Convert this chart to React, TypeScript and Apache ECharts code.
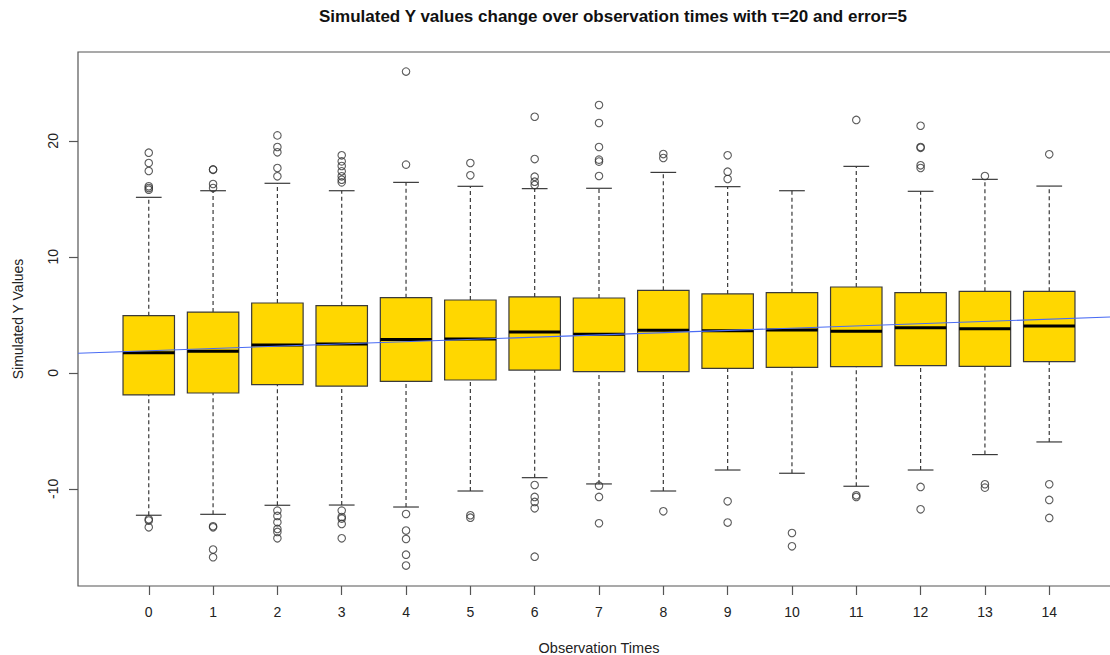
import React, { useEffect, useRef } from "react";
import * as echarts from "echarts";

const categories = [0, 1, 2, 3, 4, 5, 6, 7, 8, 9, 10, 11, 12, 13, 14];
const whiskerLow = [-12.28, -12.2, -11.42, -11.4, -11.57, -10.19, -9.04, -9.58, -10.19, -8.38, -8.66, -9.78, -8.38, -7.05, -5.96];
const q1 = [-1.91, -1.74, -1.02, -1.14, -0.73, -0.62, 0.24, 0.1, 0.1, 0.39, 0.47, 0.53, 0.62, 0.56, 0.96];
const median = [1.74, 1.85, 2.4, 2.48, 2.87, 2.92, 3.52, 3.32, 3.68, 3.62, 3.7, 3.59, 3.88, 3.8, 4.03];
const q3 = [4.93, 5.24, 6.02, 5.79, 6.48, 6.28, 6.54, 6.45, 7.11, 6.8, 6.91, 7.4, 6.91, 7.03, 7.03];
const whiskerHigh = [15.13, 15.7, 16.34, 15.7, 16.42, 16.08, 15.88, 15.91, 17.28, 16.05, 15.7, 17.8, 15.65, 16.68, 16.1];
const outliers: number[][] = [
  [18.98, 18.09, 17.4, 16.08, 15.93, 15.79, -12.63, -12.74, -13.32],
  [17.54, 17.5, 16.28, 15.93, -13.23, -13.32, -15.24, -15.9],
  [20.47, 19.47, 19.01, 17.66, 16.94, -11.88, -12.34, -12.89, -13.46, -13.72, -14.27],
  [18.75, 18.23, 17.83, 17.37, 16.94, 16.65, 16.42, -11.88, -12.43, -12.57, -13.03, -14.27],
  [25.97, 17.95, -12.17, -13.6, -14.33, -15.68, -16.62],
  [18.09, 17.03, -12.28, -12.49],
  [22.08, 18.43, 16.91, 16.48, 16.19, -9.67, -10.7, -11.13, -11.68, -15.85],
  [23.09, 21.54, 19.47, 18.38, 18.21, 16.97, -9.73, -10.7, -12.97],
  [18.86, 18.52, -11.94],
  [18.75, 17.34, 16.71, -11.08, -12.91],
  [-13.81, -14.96],
  [21.8, -10.56, -10.7],
  [21.3, 19.47, 19.4, 17.89, 17.66, -9.84, -11.77],
  [16.97, -9.61, -9.9],
  [18.84, -9.61, -10.96, -12.51],
];
const trendX = [-1.1, 15.1];
const trendY = [1.69, 4.84];
const yTicks = [-10, 0, 10, 20];

const FONT = "'Liberation Sans', Arial, Helvetica, sans-serif";

export default function App() {
  const ref = useRef<HTMLDivElement>(null);
  useEffect(() => {
    const chart = echarts.init(ref.current!, null, { renderer: "svg" });
    const boxData = categories.map((c, i) => [c, whiskerLow[i], q1[i], median[i], q3[i], whiskerHigh[i]]);
    const outlierData: number[][] = [];
    categories.forEach((c, i) => outliers[i].forEach((v) => outlierData.push([c, v])));
    const trendData = trendX.map((x, i) => [x, trendY[i]]);

    chart.setOption({
      animation: false,
      backgroundColor: "#ffffff",
      textStyle: { fontFamily: FONT },
      title: {
        text: "Simulated Y values change over observation times with \u03c4=20 and error=5",
        left: 613,
        textAlign: "center",
        top: 8,
        padding: 0,
        textStyle: { fontFamily: FONT, fontSize: 17, fontWeight: "bold", color: "#111" },
      },
      grid: {
        left: 78,
        top: 52,
        right: -10,
        bottom: 69,
        show: true,
        borderColor: "#555",
        borderWidth: 1.2,
        outerBoundsMode: "none",
        containLabel: false,
      },
      xAxis: {
        type: "value",
        min: -1.1,
        max: 15.1,
        name: "Observation Times",
        nameLocation: "middle",
        nameGap: 54,
        nameTextStyle: { fontFamily: FONT, fontSize: 14.5, color: "#222", verticalAlign: "top" },
        axisLine: { show: false, onZero: false },
        splitLine: { show: false },
        axisTick: { show: true, length: 9, customValues: categories, lineStyle: { color: "#555", width: 1.2 } },
        axisLabel: { customValues: categories, margin: 19, fontFamily: FONT, fontSize: 14, color: "#222" },
      },
      yAxis: {
        type: "value",
        min: -18.38,
        max: 27.66,
        name: "Simulated Y Values",
        nameLocation: "middle",
        nameGap: 53,
        nameTextStyle: { fontFamily: FONT, fontSize: 14, color: "#222" },
        axisLine: { show: false, onZero: false },
        splitLine: { show: false },
        axisTick: { show: true, length: 9, customValues: yTicks, lineStyle: { color: "#555", width: 1.2 } },
        axisLabel: { customValues: yTicks, rotate: 90, margin: 18, fontFamily: FONT, fontSize: 14, color: "#222" },
      },
      series: [
        {
          type: "custom",
          data: boxData,
          encode: { x: 0, y: [1, 2, 3, 4, 5] },
          renderItem: (params: any, api: any) => {
            const x = api.value(0);
            const lo = api.coord([x, api.value(1)]);
            const b = api.coord([x, api.value(2)]);
            const m = api.coord([x, api.value(3)]);
            const t = api.coord([x, api.value(4)]);
            const hi = api.coord([x, api.value(5)]);
            const hw = api.size([0.8, 0])[0] / 2;
            const cw = hw / 2;
            const dash = { stroke: "#3a3a3a", lineWidth: 1.2, lineDash: [4, 3] };
            const solid = { stroke: "#3a3a3a", lineWidth: 1.2 };
            return {
              type: "group",
              children: [
                { type: "line", shape: { x1: t[0], y1: t[1], x2: hi[0], y2: hi[1] }, style: dash },
                { type: "line", shape: { x1: lo[0], y1: lo[1], x2: b[0], y2: b[1] }, style: dash },
                { type: "line", shape: { x1: hi[0] - cw, y1: hi[1], x2: hi[0] + cw, y2: hi[1] }, style: solid },
                { type: "line", shape: { x1: lo[0] - cw, y1: lo[1], x2: lo[0] + cw, y2: lo[1] }, style: solid },
                {
                  type: "rect",
                  shape: { x: b[0] - hw, y: t[1], width: 2 * hw, height: b[1] - t[1] },
                  style: { fill: "#FFD700", stroke: "#3a3a3a", lineWidth: 1.2 },
                },
                { type: "line", shape: { x1: m[0] - hw, y1: m[1], x2: m[0] + hw, y2: m[1] }, style: { stroke: "#000", lineWidth: 3 } },
              ],
            };
          },
          z: 2,
        },
        {
          type: "scatter",
          data: outlierData,
          symbol: "circle",
          symbolSize: 7.5,
          itemStyle: { color: "rgba(0,0,0,0)", borderColor: "#333", borderWidth: 1.1 },
          z: 3,
        },
        {
          type: "line",
          data: trendData,
          symbol: "none",
          lineStyle: { color: "#4a6cf4", width: 1.1 },
          z: 4,
        },
      ],
    });
    return () => chart.dispose();
  }, []);
  return (
    <div
      ref={ref}
      style={{ position: "fixed", left: 0, top: 0, width: 1110, height: 655, background: "#fff" }}
    />
  );
}
